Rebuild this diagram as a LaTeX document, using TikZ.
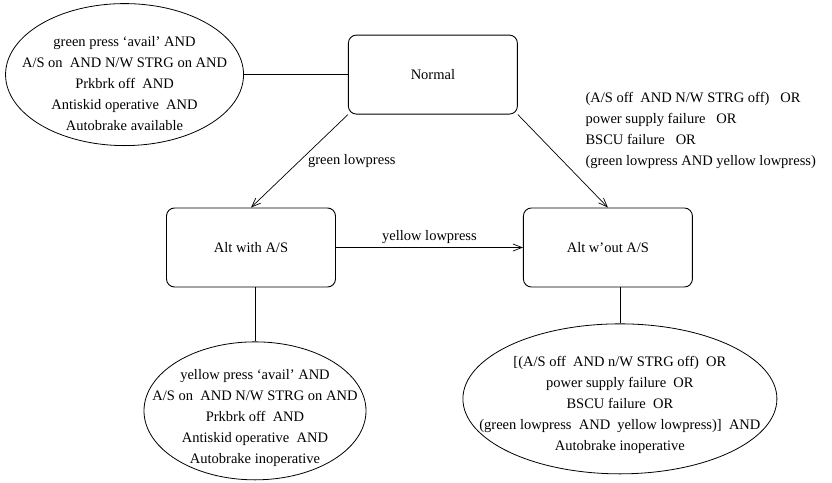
\documentclass[tikz,border=0pt]{standalone}
\usepackage{fontspec}
\setmainfont{Liberation Serif}
\usepackage{tikz}
\usetikzlibrary{arrows.meta,positioning,shapes.geometric,calc}

\begin{document}
\begin{tikzpicture}[x=1pt,y=-1pt,%
         estado/.style={rectangle,draw,rounded corners=8pt,line width=0.9pt,minimum height=79pt,minimum width=169pt,
                        font=\fontsize{14.5pt}{21pt}\selectfont},
         cond/.style={ellipse,draw,line width=0.8pt,inner sep=0pt},
         texto/.style={align=center,font=\fontsize{14.5pt}{21pt}\selectfont},
         flecha/.style={-{Straight Barb[length=9pt,width=7pt]},line width=0.7pt},
         linea/.style={line width=0.8pt}]
        \useasboundingbox (0,0) rectangle (832,482);
        \node [estado] (altcon) at (251,247.5) {Alt with A/S};
        \node [estado] (normal) [above right=93pt and 12pt of altcon] {Normal};
        \node [estado] (altsin) [right=187pt of altcon] {Alt w'out A/S};
        \node [cond,minimum width=238pt,minimum height=142pt] (condnormal) [left=104pt of normal] {};
        \node [cond,minimum width=222pt,minimum height=138pt] (condcon) [below=54pt of altcon,xshift=4pt] {};
        \node [cond,minimum width=314pt,minimum height=150pt] (condsin) [below=36pt of altsin,xshift=12pt] {};
        \node [texto] (txtnormal) at ([yshift=-9pt]condnormal.center) {green press ‘avail’ AND\\A/S on~ AND N/W STRG on AND\\Prkbrk off~ AND\\Antiskid operative~ AND\\Autobrake available};
        \node [texto] (txtcon) at ([yshift=-7pt]condcon.center) {yellow press ‘avail’ AND\\A/S on~ AND N/W STRG on AND\\Prkbrk off~ AND\\Antiskid operative~ AND\\Autobrake inoperative};
        \node [texto] (txtsin) at ([yshift=-6pt]condsin.center) {[(A/S off~ AND n/W STRG off)~ OR\\power supply failure~ OR\\BSCU failure~ OR\\(green lowpress~ AND~ yellow lowpress)]~ AND\\Autobrake inoperative};
        \node [texto,align=left,anchor=west] (lblsin) at (582,130) {(A/S off~ AND N/W STRG off)~~ OR\\power supply failure~~ OR\\BSCU failure~~ OR\\(green lowpress AND yellow lowpress)};
        \draw [linea] (condnormal.east) -- (normal.west);
        \draw [flecha] (normal.south west) -- node [texto,right,xshift=5pt] (lblverde) {green lowpress} (altcon.north);
        \draw [flecha] (normal.south east) -- (altsin.north);
        \draw [flecha] (altcon.east) -- node [texto,above] (lblamarillo) {yellow lowpress} (altsin.west);
        \draw [linea] (condcon.north) -- (condcon.north |- altcon.south);
        \draw [linea] (condsin.north) -- (condsin.north |- altsin.south);
      \end{tikzpicture}
\end{document}
